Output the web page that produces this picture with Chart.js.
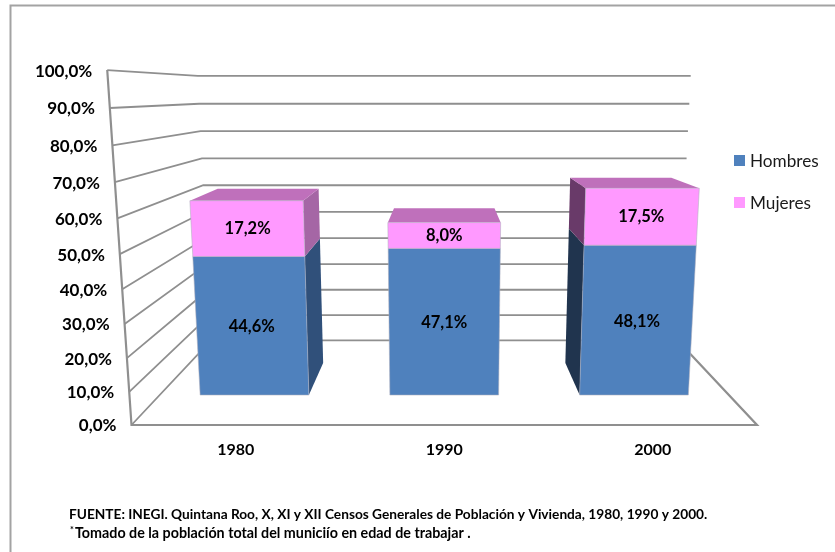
<!DOCTYPE html>
<html>
<head>
<meta charset="utf-8">
<style>
  html, body { margin: 0; padding: 0; background: #fff; }
  canvas { display: block; }
</style>
<script src="https://cdn.jsdelivr.net/npm/chart.js@4"></script>
</head>
<body>
<canvas id="myChart" width="835" height="552"></canvas>
<script>
// data
const categories = ['1980', '1990', '2000'];
const hombres = [44.6, 47.1, 48.1];
const mujeres = [17.2, 8.0, 17.5];
const yMax = 100;
const yStep = 10;
const fuente = 'FUENTE: INEGI. Quintana Roo, X, XI y XII Censos Generales de Población y Vivienda, 1980, 1990 y 2000.';
const nota = 'Tomado de la población total del municiío en edad de trabajar .';

const FONT = 'Lato, "Open Sans", sans-serif';
const GRID = '#8f8f8f';
const pct = v => v.toFixed(1).replace('.', ',') + '%';

// perspective of the 3D box, fitted on the picture.
// z is depth: 0 front of the floor, 1 back wall
function warp(chart, px, py, z) {
  const a = chart.chartArea;
  const cx = (a.left + a.right) / 2;
  const v = (a.bottom - py) / (a.bottom - a.top);
  const w = 1 - 0.072 * v + 0.341 * z;
  return {
    x: cx + (px - cx) / w,
    y: (425 - 360 * v + 31.4 * z) / w
  };
}

function poly(ctx, pts, fill, stroke) {
  ctx.beginPath();
  pts.forEach((p, i) => i ? ctx.lineTo(p.x, p.y) : ctx.moveTo(p.x, p.y));
  ctx.closePath();
  ctx.fillStyle = fill;
  ctx.fill();
  if (stroke) {
    ctx.strokeStyle = stroke;
    ctx.lineWidth = 1;
    ctx.stroke();
  }
}

// walls, floor and axis labels of the box
const box3d = {
  id: 'box3d',
  beforeDatasetsDraw(chart) {
    const ctx = chart.ctx, a = chart.chartArea, y = chart.scales.y;
    ctx.save();
    // chart border, only top and left
    ctx.strokeStyle = '#a3a3a3';
    ctx.lineWidth = 2;
    ctx.beginPath();
    ctx.moveTo(10.5, 552);
    ctx.lineTo(10.5, 5.5);
    ctx.lineTo(835, 5.5);
    ctx.stroke();

    ctx.strokeStyle = GRID;
    y.ticks.forEach(t => {
      const py = y.getPixelForValue(t.value);
      const p0 = warp(chart, a.left, py, 0), p1 = warp(chart, a.left, py, 1), p2 = warp(chart, a.right, py, 1);
      ctx.lineWidth = 1.8;
      ctx.beginPath();
      ctx.moveTo(p0.x, p0.y);
      ctx.lineTo(p1.x, p1.y);
      ctx.lineTo(p2.x, p2.y);
      ctx.stroke();
      ctx.fillStyle = '#000';
      ctx.font = 'bold 17px ' + FONT;
      ctx.textAlign = 'right';
      ctx.textBaseline = 'middle';
      ctx.fillText(t.label, p0.x - 15, p0.y + 1);
    });
    // left front edge and the floor
    const e0 = warp(chart, a.left, a.top, 0), e1 = warp(chart, a.left, a.bottom, 0);
    const e2 = warp(chart, a.right, a.bottom, 0), e3 = warp(chart, a.right, a.bottom, 1);
    ctx.lineWidth = 2.2;
    ctx.beginPath();
    ctx.moveTo(e0.x, e0.y);
    ctx.lineTo(e1.x, e1.y);
    ctx.lineTo(e2.x, e2.y);
    ctx.lineTo(e3.x, e3.y);
    ctx.stroke();
    ctx.restore();
  }
};

// draws the stacked bars as blocks, from the bar elements chart.js laid out
const Z1 = 0.29, Z2 = 0.67;
const sideColors = {
  0: { right: '#30507a', left: '#20344e' },
  1: { right: '#a566a5', left: '#693a69' }
};
const topColor = '#bf70bb';
const bars3d = {
  id: 'bars3d',
  beforeDatasetsDraw(chart) {
    const ctx = chart.ctx;
    const metas = chart.data.datasets.map((d, i) => chart.getDatasetMeta(i));
    ctx.save();
    categories.forEach((c, i) => {
      const labels = [];
      metas.forEach((meta, di) => {
        const bar = meta.data[i].getProps(['x', 'y', 'base', 'width'], true);
        const l = bar.x - bar.width / 2, r = bar.x + bar.width / 2;
        const fb = warp(chart, l, bar.base, Z1), fbr = warp(chart, r, bar.base, Z1);
        const ft = warp(chart, l, bar.y, Z1), ftr = warp(chart, r, bar.y, Z1);
        const bb = warp(chart, l, bar.base, Z2), bbr = warp(chart, r, bar.base, Z2);
        const bt = warp(chart, l, bar.y, Z2), btr = warp(chart, r, bar.y, Z2);
        if (bbr.x > fbr.x) poly(ctx, [fbr, bbr, btr, ftr], sideColors[di].right);
        if (bb.x < fb.x) poly(ctx, [fb, bb, bt, ft], sideColors[di].left);
        if (di === metas.length - 1) poly(ctx, [ft, ftr, btr, bt], topColor);
        poly(ctx, [fb, fbr, ftr, ft], chart.data.datasets[di].backgroundColor, 'rgba(175,175,190,0.55)');
        const mid = warp(chart, bar.x, (bar.y + bar.base) / 2, Z1);
        labels.push({ x: mid.x, y: mid.y, text: pct(chart.data.datasets[di].data[i]) });
      });
      ctx.fillStyle = '#000';
      ctx.font = 'bold 16.5px ' + FONT;
      ctx.textAlign = 'center';
      ctx.textBaseline = 'middle';
      labels.forEach(t => ctx.fillText(t.text, t.x, t.y));
    });
    ctx.restore();
    return false; // flat bars are not drawn
  }
};

// legend and source notes
const notes = {
  id: 'notes',
  afterDraw(chart) {
    const ctx = chart.ctx;
    ctx.save();
    ctx.textBaseline = 'middle';
    ctx.textAlign = 'left';
    chart.data.datasets.forEach((d, i) => {
      const y = 155 + i * 42;
      ctx.fillStyle = d.backgroundColor;
      ctx.fillRect(734, y, 11, 11);
      ctx.fillStyle = '#1a1a1a';
      ctx.font = '17.2px ' + FONT;
      ctx.fillText(d.label, 750, y + 6);
    });
    ctx.fillStyle = '#000';
    ctx.font = 'bold 13.7px ' + FONT;
    ctx.fillText(fuente, 69, 515);
    ctx.font = 'bold 14.3px ' + FONT;
    ctx.fillText(nota, 75, 533);
    ctx.font = 'bold 9px ' + FONT;
    ctx.fillText('*', 70, 530);
    ctx.restore();
  }
};

const data = {
  labels: categories,
  datasets: [
    { label: 'Hombres', data: hombres, backgroundColor: '#4f81bd' },
    { label: 'Mujeres', data: mujeres, backgroundColor: '#ff99ff' }
  ]
};

const config = {
  type: 'bar',
  data,
  options: {
    responsive: false,
    animation: false,
    layout: { padding: { left: 131.5, right: 78, top: 70, bottom: 78 } },
    datasets: { bar: { categoryPercentage: 1, barPercentage: 0.573 } },
    plugins: { legend: { display: false }, tooltip: { enabled: false } },
    scales: {
      x: {
        stacked: true,
        grid: { display: false },
        border: { display: false },
        ticks: { padding: 15, color: '#000', font: { family: FONT, size: 16, weight: 'bold' } }
      },
      y: {
        stacked: true,
        display: false,
        min: 0,
        max: yMax,
        ticks: { stepSize: yStep, callback: v => pct(v) }
      }
    }
  },
  plugins: [box3d, bars3d, notes]
};

const myChart = new Chart(document.getElementById('myChart'), config);
</script>
</body>
</html>
